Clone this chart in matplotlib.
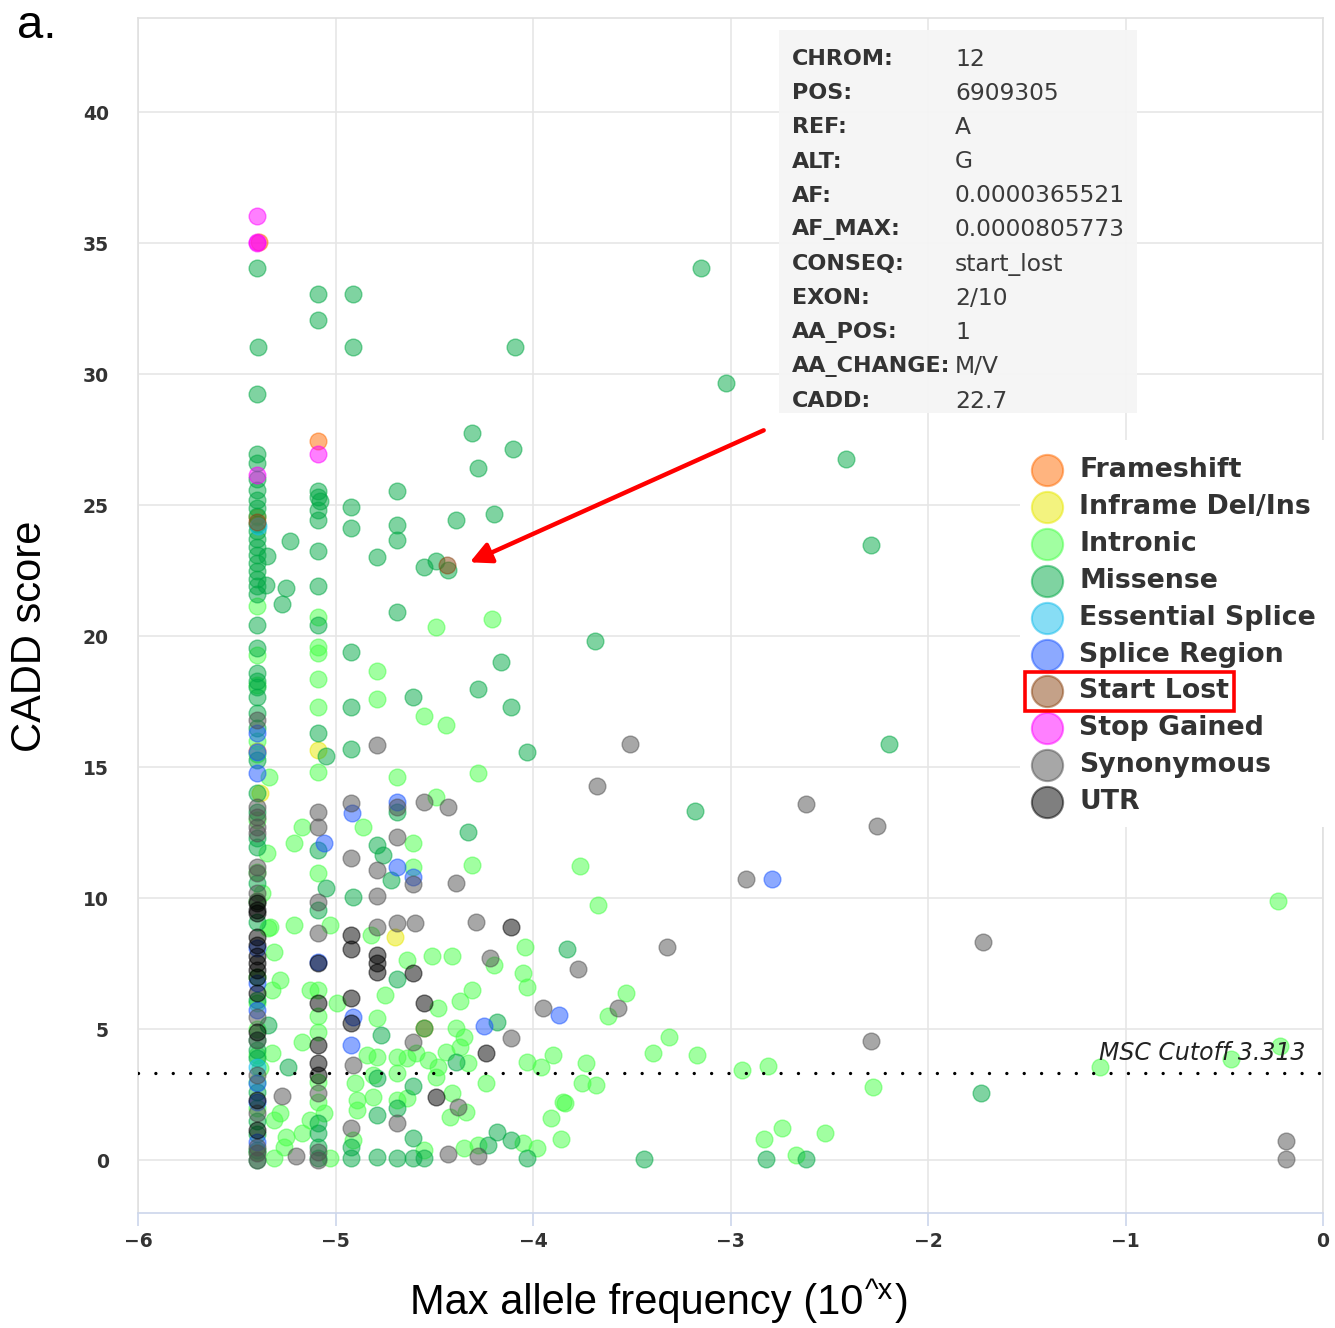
import matplotlib

matplotlib.use("Agg")
import matplotlib.pyplot as plt
from matplotlib.lines import Line2D
from matplotlib.patches import Rectangle

W, H = 1335, 1328

# (log10 max allele frequency, CADD score), per consequence
FRAMESHIFT = [(-5.385, 35.04), (-5.09, 27.44), (-5.40, 24.55), (-5.40, 15.6), (-4.55, 5.04)]
INFRAME = [(-5.09, 15.65), (-4.70, 8.51), (-5.38, 14.0)]
INTRONIC = [
    (-5.40, 21.15), (-5.40, 19.27), (-5.40, 18.13), (-5.40, 16.0), (-5.335, 14.62), (-5.40, 13.0),
    (-5.345, 11.72), (-5.40, 9.9), (-5.33, 8.89), (-5.40, 7.0), (-5.40, 6.0), (-5.40, 5.0),
    (-5.40, 4.0), (-5.40, 3.0), (-5.40, 2.0), (-5.40, 0.3), (-5.40, 15.5), (-5.40, 11.0),
    (-5.37, 10.2), (-5.38, 3.5),
    (-5.09, 20.73), (-5.09, 19.58), (-5.09, 19.35), (-5.09, 18.36), (-5.09, 17.29), (-5.09, 14.81),
    (-5.09, 10.95), (-5.17, 12.71), (-5.21, 12.1), (-5.09, 6.5), (-5.09, 5.5), (-5.09, 4.9),
    (-5.09, 3.0), (-5.09, 2.2),
    (-3.67, 9.73), (-5.21, 8.97), (-5.03, 8.97), (-5.34, 8.85), (-4.82, 8.59), (-5.31, 7.94),
    (-4.64, 7.63), (-4.51, 7.79), (-4.41, 7.79), (-4.04, 8.13), (-4.20, 7.44), (-4.05, 7.14),
    (-4.03, 6.6), (-5.28, 6.87), (-5.32, 6.49), (-5.13, 6.49), (-4.99, 5.99), (-4.75, 6.30),
    (-4.31, 6.49), (-4.37, 6.07), (-4.48, 5.80), (-4.79, 5.42), (-3.53, 6.37), (-3.62, 5.50),
    (-5.17, 4.50), (-5.32, 4.08), (-4.84, 4.01), (-4.79, 3.93), (-4.69, 3.93), (-4.64, 3.89),
    (-4.59, 4.08), (-4.53, 3.82), (-4.44, 4.12), (-4.39, 5.04), (-4.35, 4.69), (-4.37, 4.31),
    (-4.33, 3.70), (-4.48, 3.55), (-4.69, 3.32), (-4.81, 3.24), (-4.49, 3.17), (-4.03, 3.74),
    (-3.96, 3.55), (-3.90, 4.01), (-3.73, 3.70), (-3.31, 4.69), (-3.39, 4.08), (-3.17, 4.01),
    (-3.75, 2.94), (-3.68, 2.86), (-4.24, 2.94), (-3.85, 2.21), (-3.91, 1.60), (-3.86, 0.80),
    (-4.42, 1.64), (-4.34, 1.83), (-4.41, 2.56), (-4.64, 2.37), (-4.69, 2.29), (-4.81, 2.40),
    (-4.89, 2.29), (-4.90, 2.94), (-4.89, 1.91), (-5.06, 1.79), (-5.13, 1.53), (-5.28, 1.79),
    (-5.31, 1.53), (-5.25, 0.88), (-5.17, 1.03), (-5.26, 0.50), (-5.31, 0.08), (-5.03, 0.08),
    (-4.55, 0.38), (-4.35, 0.46), (-4.28, 0.57), (-4.05, 0.65), (-3.98, 0.46), (-4.91, 0.76),
    (-4.49, 20.34), (-4.21, 20.65), (-4.79, 18.66), (-4.79, 17.6), (-4.55, 16.95), (-4.44, 16.6),
    (-4.69, 14.63), (-4.28, 14.77), (-4.49, 13.86), (-4.86, 12.71), (-4.61, 12.1), (-4.31, 11.26),
    (-4.61, 11.18), (-3.76, 11.22), (-2.94, 3.44), (-2.81, 3.59), (-2.28, 2.79), (-3.84, 2.18),
    (-2.83, 0.80), (-2.74, 1.22), (-2.52, 1.03), (-2.67, 0.19), (-0.228, 9.89), (-0.218, 4.35),
    (-0.467, 3.85), (-1.127, 3.55),
]
MISSENSE = [
    (-5.40, 34.05), (-5.39, 31.03), (-5.40, 29.24), (-5.40, 26.95), (-5.40, 26.6), (-5.40, 26.0),
    (-5.40, 25.6), (-5.40, 25.2), (-5.40, 24.9), (-5.40, 24.6), (-5.40, 24.3), (-5.40, 24.0),
    (-5.40, 23.7), (-5.40, 23.4), (-5.40, 23.1), (-5.40, 22.8), (-5.40, 22.5), (-5.40, 22.2),
    (-5.40, 21.9), (-5.40, 21.6), (-5.345, 23.05), (-5.35, 21.95), (-5.40, 20.42), (-5.40, 19.54),
    (-5.40, 18.59), (-5.40, 18.3), (-5.40, 18.05), (-5.40, 17.67), (-5.40, 17.06), (-5.40, 15.27),
    (-5.40, 14.0), (-5.40, 13.3), (-5.40, 11.95), (-5.40, 10.57), (-5.34, 5.15), (-5.40, 4.6),
    (-5.40, 4.2), (-5.40, 1.0), (-5.40, 0.0), (-5.40, 16.5), (-5.40, 12.3), (-5.40, 9.1),
    (-5.40, 6.1), (-5.40, 3.9), (-5.40, 2.6), (-5.40, 1.5), (-5.40, 0.4),
    (-5.09, 33.05), (-5.09, 32.06), (-5.09, 25.53), (-5.09, 25.3), (-5.08, 25.15), (-5.09, 24.8),
    (-5.09, 24.43), (-5.09, 23.24), (-5.09, 21.9), (-5.09, 20.42), (-5.09, 16.3), (-5.046, 15.42),
    (-5.09, 11.83), (-5.05, 10.38), (-5.09, 9.54), (-5.09, 1.41), (-5.09, 1.03), (-5.09, 0.50),
    (-5.09, 0.08),
    (-4.91, 33.05), (-4.91, 31.03), (-4.92, 24.92), (-4.92, 24.12), (-4.92, 19.39), (-4.92, 17.3),
    (-4.92, 15.7), (-4.91, 10.04), (-4.92, 0.50), (-4.92, 0.08),
    (-4.09, 31.03), (-3.147, 34.05), (-3.025, 29.66), (-2.416, 26.76), (-2.289, 23.47), (-3.685, 19.81),
    (-2.20, 15.9), (-3.18, 13.32), (-4.31, 27.75), (-4.10, 27.14), (-4.28, 26.41), (-4.69, 25.53),
    (-4.39, 24.43), (-4.20, 24.66), (-4.69, 24.24), (-4.69, 23.66), (-4.79, 23.02), (-4.55, 22.63),
    (-4.49, 22.86), (-4.43, 22.52), (-5.23, 23.63), (-5.25, 21.83), (-5.27, 21.22), (-4.69, 20.92),
    (-4.16, 19.0), (-4.28, 17.98), (-4.61, 17.67), (-4.11, 17.3), (-4.03, 15.57), (-4.33, 12.52),
    (-4.79, 12.02), (-4.76, 11.64), (-4.72, 10.69), (-4.69, 13.3), (-4.69, 6.91), (-3.83, 8.05),
    (-4.18, 5.27), (-4.77, 4.77), (-4.39, 3.74), (-5.24, 3.55), (-4.79, 3.13), (-4.61, 2.82),
    (-4.69, 1.98), (-4.79, 1.72), (-4.61, 0.84), (-4.18, 1.07), (-4.23, 0.57), (-4.11, 0.76),
    (-4.79, 0.11), (-4.69, 0.08), (-4.61, 0.08), (-4.55, 0.08), (-4.03, 0.08), (-3.44, 0.04),
    (-2.82, 0.04), (-2.62, 0.04), (-1.73, 2.56), (-4.55, 5.04),
]
ESSENTIAL_SPLICE = [(-5.39, 24.2), (-5.40, 3.55)]
SPLICE_REGION = [
    (-5.40, 16.3), (-5.40, 15.57), (-5.40, 14.77), (-5.40, 8.1), (-5.40, 6.76), (-5.40, 5.73),
    (-5.40, 2.94), (-5.40, 2.2), (-5.40, 0.69), (-5.09, 7.56), (-5.056, 12.1), (-4.915, 13.24),
    (-4.91, 5.46), (-4.92, 4.39), (-4.69, 13.66), (-4.69, 11.18), (-4.61, 10.8), (-4.25, 5.11),
    (-3.87, 5.53), (-2.79, 10.72),
]
START_LOST = [(-5.40, 24.35), (-4.437, 22.7)]
STOP_GAINED = [(-5.40, 36.03), (-5.40, 35.04), (-5.395, 35.0), (-5.09, 26.95), (-5.40, 26.15)]
SYNONYMOUS = [
    (-5.40, 16.8), (-5.40, 13.47), (-5.40, 13.09), (-5.40, 12.71), (-5.40, 12.48), (-5.40, 11.18),
    (-5.40, 10.95), (-5.40, 10.19), (-5.40, 9.9), (-5.40, 5.46), (-5.40, 4.6), (-5.40, 3.24),
    (-5.40, 1.79), (-5.40, 0.50), (-5.40, 0.27), (-5.40, 0.0),
    (-5.09, 13.28), (-5.09, 12.71), (-5.09, 9.85), (-5.09, 8.66), (-5.09, 2.56), (-5.09, 0.30),
    (-5.09, 0.0), (-4.92, 13.63), (-4.92, 11.53), (-4.91, 3.63), (-4.92, 1.22),
    (-4.79, 15.84), (-4.55, 13.66), (-4.43, 13.47), (-4.69, 13.47), (-4.69, 12.33), (-4.79, 11.07),
    (-4.61, 10.53), (-4.39, 10.57), (-4.79, 10.1), (-4.79, 8.9), (-4.69, 9.04), (-4.60, 9.04),
    (-4.29, 9.08), (-4.22, 7.71), (-3.77, 7.29), (-3.32, 8.13), (-3.95, 5.80), (-3.57, 5.80),
    (-4.11, 4.66), (-4.61, 4.50), (-5.27, 2.44), (-4.38, 2.02), (-4.69, 1.41), (-5.20, 0.15),
    (-4.43, 0.23), (-4.28, 0.15), (-3.51, 15.88), (-3.675, 14.27), (-2.62, 13.59), (-2.26, 12.75),
    (-2.92, 10.72), (-2.29, 4.54), (-1.72, 8.32), (-0.188, 0.73), (-0.188, 0.04),
]
UTR = [
    (-5.40, 9.8), (-5.40, 9.54), (-5.40, 9.43), (-5.40, 8.51), (-5.40, 8.2), (-5.40, 7.8),
    (-5.40, 7.52), (-5.40, 7.25), (-5.40, 6.98), (-5.40, 6.37), (-5.40, 4.89), (-5.40, 2.29),
    (-5.40, 1.15), (-5.09, 7.52), (-5.09, 5.99), (-5.09, 4.39), (-5.09, 3.70), (-5.09, 3.25),
    (-4.92, 8.59), (-4.92, 8.05), (-4.92, 6.18), (-4.92, 5.23), (-4.11, 8.89), (-4.79, 7.82),
    (-4.79, 7.52), (-4.79, 7.18), (-4.61, 7.14), (-4.55, 5.99), (-4.24, 4.08), (-4.49, 2.40),
]

SERIES = [
    ("Frameshift", "#ff6a00", FRAMESHIFT),
    ("Inframe Del/Ins", "#e8e800", INFRAME),
    ("Intronic", "#44ff44", INTRONIC),
    ("Missense", "#00a844", MISSENSE),
    ("Essential Splice", "#10bcec", ESSENTIAL_SPLICE),
    ("Splice Region", "#1a55ff", SPLICE_REGION),
    ("Start Lost", "#8b4513", START_LOST),
    ("Stop Gained", "#ff00ff", STOP_GAINED),
    ("Synonymous", "#505050", SYNONYMOUS),
    ("UTR", "#000000", UTR),
]

MSC_CUTOFF = 3.313
INFO_LABELS = ["CHROM:", "POS:", "REF:", "ALT:", "AF:", "AF_MAX:", "CONSEQ:", "EXON:",
               "AA_POS:", "AA_CHANGE:", "CADD:"]
INFO_VALUES = ["12", "6909305", "A", "G", "0.0000365521", "0.0000805773", "start_lost",
               "2/10", "1", "M/V", "22.7"]
HIGHLIGHT = "Start Lost"
ARROW_FROM = (-2.832, 27.86)
ARROW_TO = (-4.32, 22.82)


def fx(px):
    return px / W


def fy(py):
    return 1 - py / H


fig = plt.figure(figsize=(W / 100, H / 100), dpi=100)
ax = fig.add_axes([fx(138), fy(1213), fx(1323) - fx(138), fy(18) - fy(1213)])
ax.set_xlim(-6, 0)
ax.set_ylim(-2.02, 43.6)
ax.set_xticks(range(-6, 1))
ax.set_yticks(range(0, 41, 5))
ax.grid(True, color="#e6e6e6", lw=1.2, zorder=0)
ax.set_axisbelow(True)
for side in ("left", "top", "right"):
    ax.spines[side].set_color("#e0e0e0")
    ax.spines[side].set_linewidth(1.2)
ax.spines["bottom"].set_color("#ccd6eb")
ax.spines["bottom"].set_linewidth(1.2)
ax.tick_params(axis="x", length=9, width=1.2, color="#ccd6eb", pad=5,
               labelsize=13.5, labelcolor="#333333")
ax.tick_params(axis="y", length=0, pad=21, labelsize=13.5, labelcolor="#333333")
for lab in ax.get_xticklabels() + ax.get_yticklabels():
    lab.set_fontweight("bold")

for i, (name, color, pts) in enumerate(SERIES):
    xs, ys = zip(*pts)
    ax.scatter(xs, ys, s=145, color=color, alpha=0.5, edgecolors=color, linewidths=1.0,
               zorder=3 + i * 0.01)

ax.axhline(MSC_CUTOFF, color="black", lw=2.4, ls=(0, (0.01, 5.2)),
           dash_capstyle="round", zorder=4)
ax.text(-0.09, MSC_CUTOFF + 0.3, "MSC Cutoff 3.313", ha="right", va="bottom",
        style="italic", fontsize=17, color="#222222", zorder=5)

ax.annotate("", xy=ARROW_TO, xytext=ARROW_FROM,
            arrowprops=dict(arrowstyle="-|>", color="#ff0000", lw=3.2,
                            mutation_scale=32, shrinkA=0, shrinkB=0),
            zorder=6)

# tooltip box
fig.patches.append(Rectangle((fx(779), fy(413)), fx(1137) - fx(779), fy(30) - fy(413),
                             transform=fig.transFigure, facecolor="#f5f5f5", alpha=0.93,
                             edgecolor="none", zorder=5))
for i, (lab, val) in enumerate(zip(INFO_LABELS, INFO_VALUES)):
    yy = fy(59 + i * 34.2)
    fig.text(fx(792), yy, lab, fontsize=16, fontweight="bold", color="#333333",
             va="center", ha="left", zorder=6)
    fig.text(fx(955), yy, val, fontsize=16.8, color="#3a3a3a", va="center", ha="left", zorder=6)

# legend
fig.patches.append(Rectangle((fx(1020), fy(827)), fx(1326) - fx(1020), fy(440) - fy(827),
                             transform=fig.transFigure, facecolor="white",
                             edgecolor="none", zorder=5))
legend_texts = {}
for i, (name, color, _) in enumerate(SERIES):
    yy = fy(470 + i * 36.9)
    fig.add_artist(Line2D([fx(1047)], [yy], marker="o", markersize=22.5, color=color,
                          alpha=0.5, markeredgecolor=color, markeredgewidth=1.5,
                          linestyle="none", transform=fig.transFigure, zorder=7))
    legend_texts[name] = fig.text(fx(1079), yy, name, fontsize=19.3, fontweight="bold",
                                  color="#333333", va="center", ha="left", zorder=7)

fig.text(fx(30), fy(636), "CADD score", rotation=90, fontsize=30, family="Liberation Sans",
         ha="center", va="center")

fig.canvas.draw()
renderer = fig.canvas.get_renderer()

# x-axis title with a raised "^x"
xlab_main = fig.text(fx(410), fy(1303), "Max allele frequency (10", fontsize=30,
                     family="Liberation Sans", ha="left", va="center")
fig.canvas.draw()
bb_main = xlab_main.get_window_extent(renderer)
sup = fig.text(bb_main.x1 / W + 0.001, fy(1291), "^x", fontsize=21,
               family="Liberation Sans", ha="left", va="center")
fig.canvas.draw()
bb_sup = sup.get_window_extent(renderer)
fig.text(bb_sup.x1 / W + 0.001, fy(1303), ")", fontsize=30, family="Liberation Sans",
         ha="left", va="center")

bb = legend_texts[HIGHLIGHT].get_window_extent(renderer)
row = [name for name, _, _ in SERIES].index(HIGHLIGHT)
cy = 470 + row * 36.9
fig.patches.append(Rectangle((fx(1025), fy(cy + 19.5)), (bb.x1 + 5) / W - fx(1025), 39 / H,
                             transform=fig.transFigure, facecolor="none",
                             edgecolor="#ff0000", lw=2.6, zorder=8))

fig.text(fx(17), fy(38), "a.", fontsize=34, family="Liberation Sans", ha="left",
         va="baseline")

fig.savefig("out.png", dpi=100)
